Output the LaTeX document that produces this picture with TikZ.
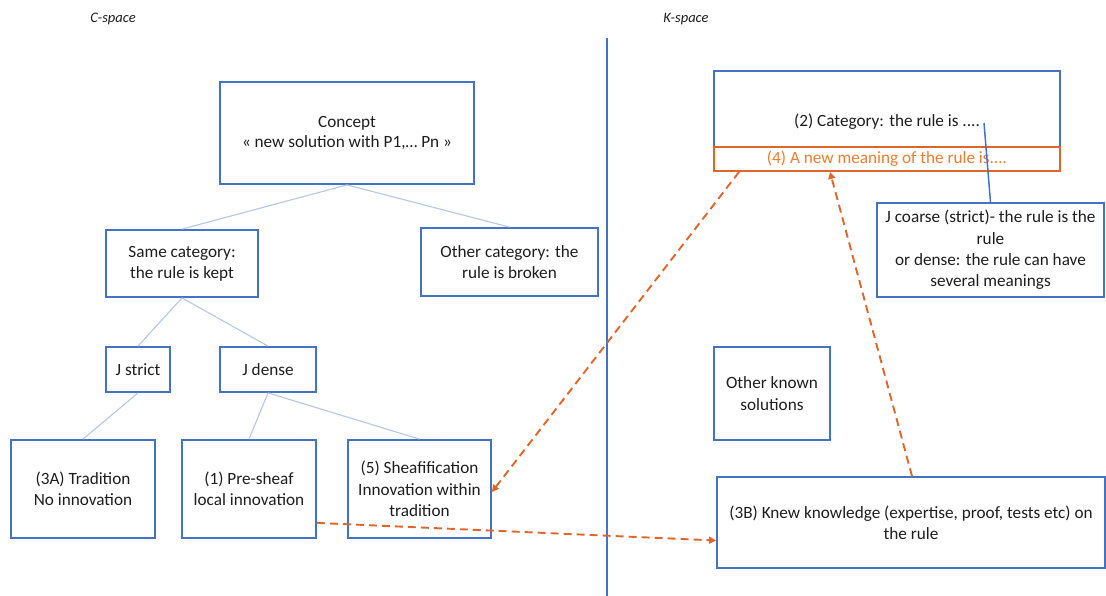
\documentclass[tikz,border=0pt]{standalone}
\usepackage{fontspec}
\setmainfont{Carlito}
\usetikzlibrary{arrows.meta}
\definecolor{bblue}{HTML}{4472C4}
\definecolor{lblue}{HTML}{B4C7E7}
\definecolor{orng}{HTML}{ED7D31}
\definecolor{dorng}{HTML}{E0652A}
\definecolor{txt}{HTML}{1E1E1E}
\begin{document}
\begin{tikzpicture}[x=1pt,y=-1pt,
 box/.style={draw=bblue, line width=1.8pt, fill=white, align=center, inner sep=0pt, font=\fontsize{17.2}{21.3}\selectfont, text=txt},
 plain/.style={align=center, inner sep=0pt, font=\fontsize{17.2}{21.3}\selectfont, text=txt},
 tree/.style={draw=lblue, line width=1.1pt},
 oarrow/.style={draw=dorng, line width=1.9pt, dash pattern=on 8pt off 5pt, -{Triangle[length=7pt,width=7pt]}},
 lab/.style={font=\fontsize{14.5}{16}\selectfont\itshape, text=txt}]
\useasboundingbox (0,0) rectangle (1106,595);

\node[lab] (cspace) at (113,19) {C-space};
\node[lab] (kspace) at (686,19) {K-space};

\coordinate (vtop) at (607,38);
\coordinate (vbot) at (607,596);
\draw[bblue, line width=1.9pt] (vtop) -- (vbot);

% C-space tree
\node[box, minimum width=254, minimum height=102] (concept) at (347,133) {Concept\\[-2pt]« new solution with P1,… Pn »};
\node[box, minimum width=152, minimum height=67] (same) at (182,263.5) {Same category:\\the rule is kept};
\node[box, minimum width=177, minimum height=68] (other) at (509.5,262) {Other category: the\\rule is broken};
\node[box, minimum width=64, minimum height=45] (jstrict) at (138,369.5) {J strict};
\node[box, minimum width=96, minimum height=45] (jdense) at (268,369.5) {J dense};
\node[box, minimum width=144, minimum height=98] (tradition) at (83,489) {(3A) Tradition\\No innovation};
\node[box, minimum width=134, minimum height=98] (presheaf) at (249,489) {(1) Pre-sheaf\\local innovation};
\node[box, minimum width=143, minimum height=98] (sheaf) at (419.5,489) {(5) Sheafification\\Innovation within\\tradition};

\draw[tree] (concept.south) -- (same.north);
\draw[tree] (concept.south) -- (other.north);
\draw[tree] (same.south) -- (jstrict.north);
\draw[tree] (same.south) -- (jdense.north);
\draw[tree] (jstrict.south) -- (tradition.north);
\draw[tree] (jdense.south) -- (presheaf.north);
\draw[tree] (jdense.south) -- (sheaf.north);

% K-space
\node[box, minimum width=346, minimum height=76] (cat) at (887,109) {};
\node[plain] (cattext) at (887,122) {(2) Category: the rule is ....};
\node[box, draw=dorng, minimum width=346, minimum height=24, text=orng] (newmean) at (887,159) {(4) A new meaning of the rule is....};
\node[box, minimum width=227, minimum height=94] (coarse) at (990.5,250) {J coarse (strict)- the rule is the\\rule\\or dense: the rule can have\\several meanings};
\node[box, minimum width=116, minimum height=93] (known) at (772,393.5) {Other known\\solutions};
\node[box, minimum width=388, minimum height=91] (knew) at (911,522.5) {(3B) Knew knowledge (expertise, proof, tests etc) on\\the rule};

\coordinate (dots) at (984,123);
\draw[bblue, line width=1.5pt] (dots) -- (coarse.north);

% orange dashed arrows
\draw[oarrow] ([xshift=26pt]newmean.south west) -- ([yshift=-3pt]sheaf.east);
\draw[oarrow] ([xshift=1pt]knew.north) -- ([xshift=-57pt]newmean.south);
\draw[oarrow] ([yshift=16pt]presheaf.south east) -- ([yshift=-18pt]knew.west);
\end{tikzpicture}
\end{document}
